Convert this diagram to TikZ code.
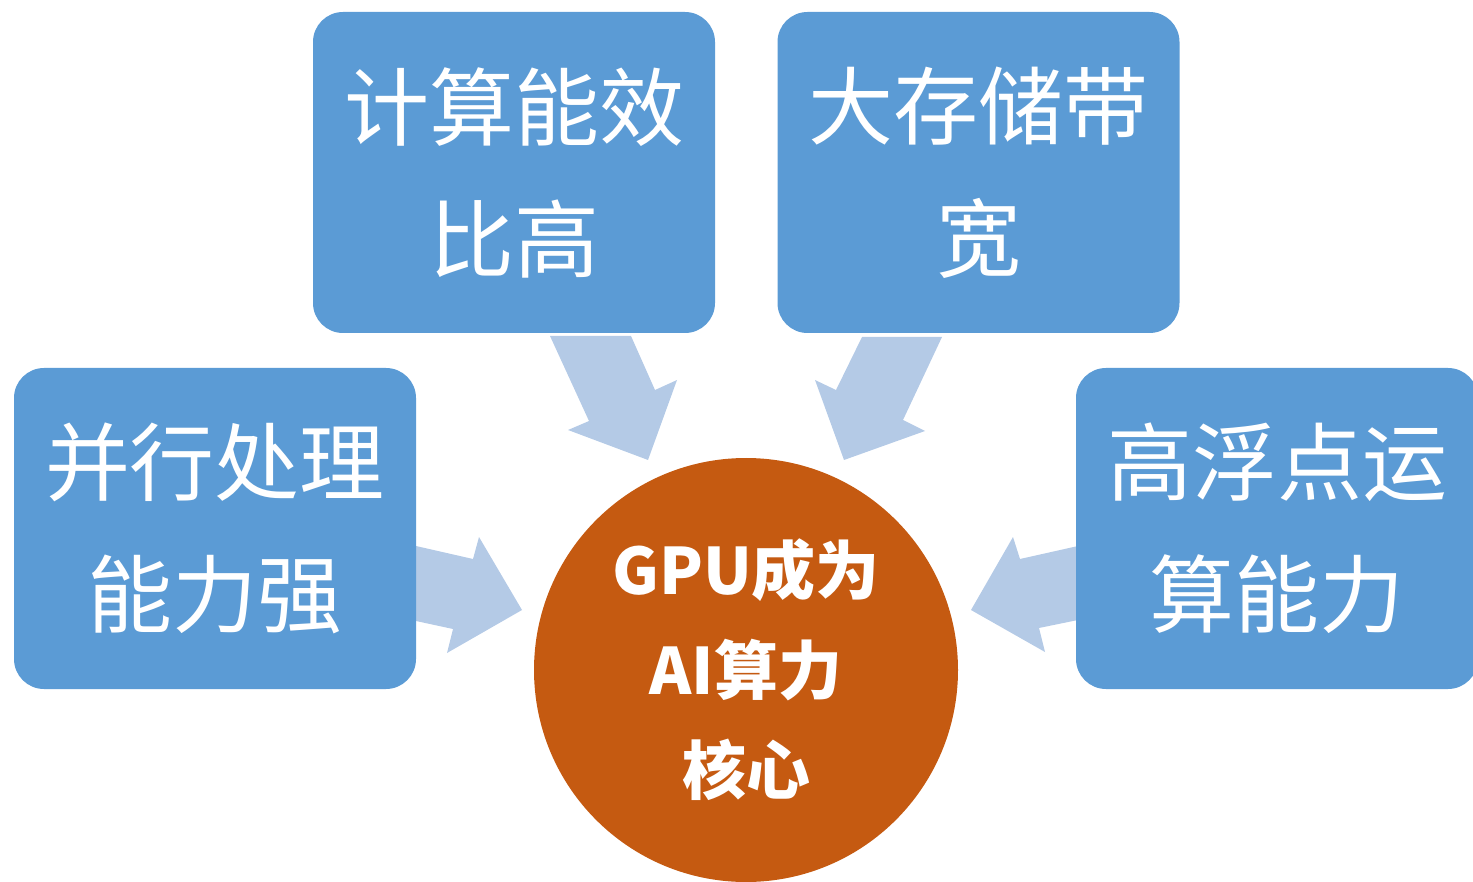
\documentclass[tikz,border=0pt]{standalone}
\usepackage{fontspec}
\setmainfont{Noto Sans CJK SC}
\definecolor{boxblue}{HTML}{5B9BD5}
\definecolor{arrowblue}{HTML}{B4CAE6}
\definecolor{coreorange}{HTML}{C55A11}
\begin{document}
\begin{tikzpicture}[x=1pt,y=-1pt,
  featbox/.style={fill=boxblue, draw=none, rounded corners=30pt,
    minimum width=402pt, minimum height=321pt, inner sep=0pt,
    text=white, align=center, font=\fontsize{85}{132}\selectfont},
  core/.style={circle, fill=coreorange, draw=none, minimum size=424pt, inner sep=0pt,
    text=white, align=center, font=\bfseries\fontsize{64}{100}\selectfont},
  blockarrow/.style={fill=arrowblue, draw=none}]
\path[use as bounding box] (0,0) rectangle (1473,882);
\begin{scope}
\clip (0,0) rectangle (1473,882);
% block arrows
\fill[blockarrow] (550,336) -- (631,336) -- (655,390) -- (677,380) -- (648,460) -- (568,430) -- (589,421) -- cycle;
\fill[blockarrow] (862,337) -- (942,337) -- (903,420) -- (925,431) -- (844,460) -- (815,380) -- (836,390) -- cycle;
\fill[blockarrow] (416,546) -- (473,559) -- (479,537) -- (522,610) -- (447,653) -- (453,629) -- (416,621) -- cycle;
\fill[blockarrow] (1078,546) -- (1020,559) -- (1013,537) -- (971,610) -- (1045,652) -- (1039,628) -- (1078,620) -- cycle;
% boxes
\node[featbox] (eff) at (514,172.5) {计算能效\\比高};
\node[featbox] (bw) at (978.5,172.5) {大存储带\\宽};
\node[featbox] (par) at (215,528.5) {并行处理\\能力强};
\node[featbox] (flt) at (1277,528.5) {高浮点运\\算能力};
\node[core] (gpu) at (746,670) {GPU成为\\AI算力\\核心};
\end{scope}
\end{tikzpicture}
\end{document}
